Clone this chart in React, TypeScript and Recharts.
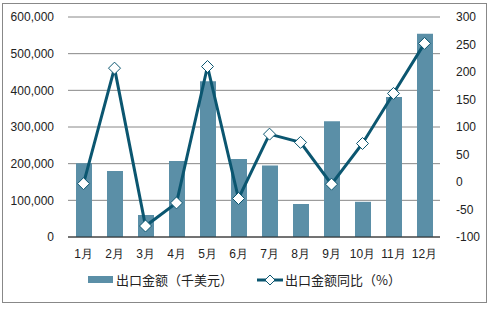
import React from 'react';
import {
  ComposedChart,
  Bar,
  Line,
  XAxis,
  YAxis,
  CartesianGrid,
  Legend,
} from 'recharts';

// 月份
const months = ['1月', '2月', '3月', '4月', '5月', '6月', '7月', '8月', '9月', '10月', '11月', '12月'];
// 出口金额（千美元）
const exportValues = [201000, 180000, 60000, 207000, 425000, 213000, 195000, 90000, 316000, 96000, 382000, 554000];
// 出口金额同比（%）
const yoyValues = [-3, 207, -80, -38, 210, -30, 87, 72, -4, 70, 161, 252];

const leftTicks = [0, 100000, 200000, 300000, 400000, 500000, 600000];
const rightTicks = [-100, -50, 0, 50, 100, 150, 200, 250, 300];

const barColor = '#5b8fa7';
const lineColor = '#0b5670';
const font = '"Liberation Sans", Arial, sans-serif';

const data = months.map((m, i) => ({
  month: m,
  value: exportValues[i],
  yoy: yoyValues[i],
}));

const Diamond = (props: any) => {
  const { cx, cy } = props;
  if (cx == null || cy == null) return null;
  const s = 6;
  return (
    <polygon
      points={`${cx},${cy - s} ${cx + s},${cy} ${cx},${cy + s} ${cx - s},${cy}`}
      fill="#ffffff"
      stroke={lineColor}
      strokeWidth={1}
    />
  );
};

const LegendContent = () => (
  <div style={{ display: 'flex', justifyContent: 'center', alignItems: 'center', fontFamily: '"Noto Sans CJK SC", sans-serif', fontSize: 13, color: '#222', paddingRight: 6, paddingTop: 3 }}>
    <span style={{ display: 'inline-block', width: 25, height: 7, background: barColor, marginRight: 3 }} />
    <span style={{ marginRight: 24 }}>出口金额（千美元）</span>
    <svg width={26} height={12} style={{ marginRight: 2 }}>
      <line x1={0} y1={6} x2={26} y2={6} stroke={lineColor} strokeWidth={3} />
      <polygon points="13,1 18,6 13,11 8,6" fill="#fff" stroke={lineColor} strokeWidth={1} />
    </svg>
    <span>出口金额同比（%）</span>
  </div>
);

export default function App() {
  return (
    <div style={{ position: 'absolute', left: 0, top: 0, width: 495, height: 309, background: '#fff' }}>
      <div style={{ position: 'absolute', left: 2, top: 3, width: 483, height: 298, border: '1px solid #888' }} />
      <ComposedChart
        width={495}
        height={309}
        data={data}
        margin={{ top: 17, right: 0, bottom: 12, left: 0 }}
        barCategoryGap="48%"
      >
        <CartesianGrid vertical={false} stroke="#888" strokeWidth={1} yAxisId="left" />
        <XAxis
          dataKey="month"
          tickLine={false}
          axisLine={{ stroke: '#222' }}
          tick={{ fontSize: 12, fill: '#222', fontFamily: font }}
          tickMargin={6}
          height={30}
          interval={0}
        />
        <YAxis
          yAxisId="left"
          domain={[0, 600000]}
          ticks={leftTicks}
          width={68}
          axisLine={false}
          tickLine={false}
          tickFormatter={(v) => v.toLocaleString('en-US')}
          tick={{ fontSize: 12, fill: '#222', fontFamily: font }}
          tickMargin={8}
        />
        <YAxis
          yAxisId="right"
          orientation="right"
          domain={[-100, 300]}
          ticks={rightTicks}
          width={55}
          axisLine={false}
          tickLine={false}
          tick={{ fontSize: 12, fill: '#222', fontFamily: font, textAnchor: 'start' }}
          tickMargin={10}
        />
        <Legend verticalAlign="bottom" height={30} content={<LegendContent />} />
        <Bar yAxisId="left" dataKey="value" name="出口金额（千美元）" fill={barColor} barSize={16} isAnimationActive={false} />
        <Line
          yAxisId="right"
          type="linear"
          dataKey="yoy"
          name="出口金额同比（%）"
          stroke={lineColor}
          strokeWidth={3}
          dot={<Diamond />}
          activeDot={false}
          isAnimationActive={false}
        />
      </ComposedChart>
    </div>
  );
}
